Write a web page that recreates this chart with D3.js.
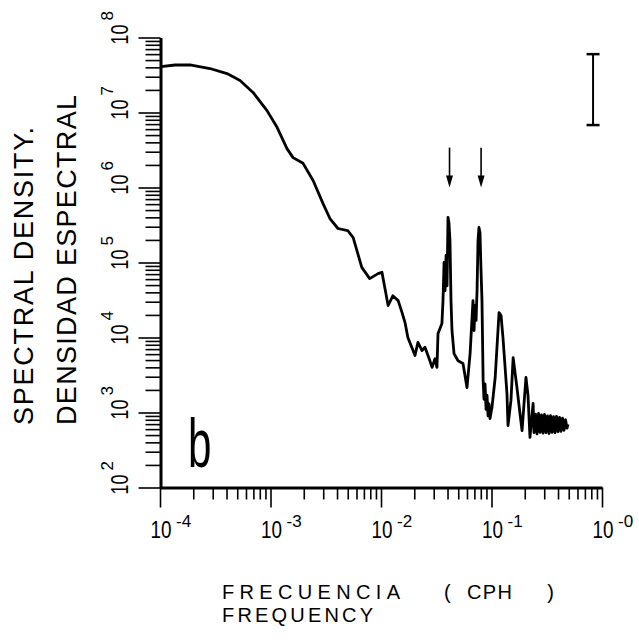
<!DOCTYPE html>
<html>
<head>
<meta charset="utf-8">
<script src="https://cdn.jsdelivr.net/npm/d3@7"></script>
<style>
  body { margin: 0; background: #fff; }
  svg { display: block; }
  text { font-family: "Liberation Sans", Arial, sans-serif; fill: #000; }
</style>
</head>
<body>
<div id="chart"></div>
<script>
// frequency (cph) and spectral density
const freq = [
  1.02e-4, 1.37e-4, 1.87e-4, 2.83e-4, 4.04e-4, 5.3e-4, 6.95e-4, 9.3e-4,
  1.15e-3, 1.41e-3, 1.6e-3, 1.97e-3, 2.43e-3, 2.99e-3, 3.45e-3, 4.08e-3,
  5.0e-3, 5.6e-3, 6.7e-3, 7.9e-3, 9.4e-3, 1.02e-2, 1.16e-2, 1.28e-2,
  1.43e-2, 1.55e-2, 1.65e-2, 1.75e-2, 1.95e-2, 2.03e-2, 2.16e-2, 2.35e-2,
  2.5e-2, 2.77e-2, 2.9e-2, 3.08e-2, 3.21e-2, 3.28e-2, 3.56e-2,
  3.64e-2, 3.72e-2, 3.80e-2, 3.88e-2, 3.96e-2, 4.04e-2, 4.12e-2, 4.21e-2,
  4.30e-2, 4.39e-2, 4.58e-2, 4.98e-2, 5.52e-2, 6.0e-2, 6.4e-2,
  6.8e-2, 6.95e-2, 7.1e-2, 7.25e-2, 7.4e-2, 7.55e-2, 7.7e-2, 7.87e-2,
  8.0e-2, 8.2e-2, 8.4e-2, 8.55e-2, 8.74e-2, 8.93e-2, 9.11e-2, 9.31e-2,
  9.49e-2, 9.7e-2, 9.9e-2, 0.101, 0.108, 0.117,
  0.122, 0.127, 0.138, 0.141, 0.150, 0.157, 0.170, 0.181, 0.189, 0.205,
  0.214, 0.223, 0.238,
  0.2424, 0.2501, 0.2581, 0.2663, 0.2748, 0.2835, 0.2925, 0.3017,
  0.3113, 0.3212, 0.3314, 0.3419, 0.3528, 0.3640, 0.3755, 0.3875,
  0.3998, 0.4125, 0.4256, 0.4391, 0.4530, 0.4675, 0.4823, 0.492
];
const density = [
  4.1e7, 4.3e7, 4.3e7, 3.86e7, 3.3e7, 2.67e7, 1.85e7, 1.06e7,
  6.3e6, 3.3e6, 2.5e6, 2.1e6, 1.24e6, 6.1e5, 3.86e5, 2.84e5,
  2.67e5, 2.15e5, 8.6e4, 6.1e4, 7.1e4, 7.4e4, 2.67e4, 3.6e4,
  3.1e4, 2.15e4, 1.58e4, 1.0e4, 6.7e3, 5.75e3, 8.6e3, 6.7e3,
  7.4e3, 4.9e3, 4.0e3, 5.2e3, 4.0e3, 1.13e4, 1.54e4,
  3.1e4, 1.0e5, 4.2e4, 1.24e5, 4.9e4, 4.0e5, 3.4e5, 1.96e5,
  3.1e4, 1.24e4, 6.1e3, 4.9e3, 4.5e3, 2.15e3, 6.1e3,
  3.1e4, 1.24e4, 2.67e4, 1.69e4, 4.2e4, 1.96e5, 2.93e5, 2.5e5,
  1.0e5, 3.1e4, 2670, 1500, 2400, 1100, 1700, 900,
  1300, 830, 1000, 1170, 2930, 2.15e4,
  1.96e4, 1.0e4, 1790, 670, 1450, 5400, 2150, 970, 575, 2930,
  1690, 465, 1320,
  540, 950, 520, 970, 545, 930, 530, 940,
  540, 900, 525, 910, 545, 880, 540, 890,
  555, 860, 560, 840, 580, 800, 620, 700
];

const xDomain = [1e-4, 1];
const yDomain = [1e2, 1e8];
const xTickExps = [-4, -3, -2, -1, 0];
const xTickExpLabels = ["-4", "-3", "-2", "-1", "-0"];
const yTickExps = [2, 3, 4, 5, 6, 7, 8];
const yTickExpLabels = ["2", "3", "4", "5", "6", "7", "8"];

// tidal peaks marked with arrows (diurnal, semidiurnal)
const arrowFreqs = [0.0417, 0.0805];
const arrowTop = 3.4e6, arrowTip = 1.0e6;
// confidence interval bar
const errorBarFreq = 0.83;
const errorBarRange = [6.8e6, 6.0e7];

const panelLabel = "b";
const yTitles = ["SPECTRAL DENSITY.", "DENSIDAD ESPECTRAL"];
const xTitle1 = ["FRECUENCIA", "(", "CPH", ")"];
const xTitle2 = "FREQUENCY";

const width = 639, height = 643;
const svg = d3.select("#chart").append("svg")
  .attr("width", width).attr("height", height);

const x = d3.scaleLog().domain(xDomain).range([160, 602]);
const y = d3.scaleLog().domain(yDomain).range([487.5, 37.5]);
const isMajor = d => Math.abs(Math.log10(d) - Math.round(Math.log10(d))) < 1e-6;

// axes
const gx = svg.append("g").attr("transform", "translate(0,487.5)")
  .call(d3.axisBottom(x).tickSize(12).tickSizeOuter(0).tickFormat(""));
gx.select(".domain").attr("stroke-width", 3);
gx.selectAll(".tick line").attr("stroke-width", 1.6).attr("y2", d => isMajor(d) ? 20 : 12);

const gy = svg.append("g").attr("transform", "translate(160.5,0)")
  .call(d3.axisLeft(y).tickSize(15).tickSizeOuter(0).tickFormat(""));
gy.select(".domain").attr("stroke-width", 3);
gy.selectAll(".tick line").attr("stroke-width", 1.6).attr("x2", d => isMajor(d) ? -22 : -15);

// x tick labels: 10 with exponent
xTickExps.forEach((e, i) => {
  const px = x(Math.pow(10, e));
  svg.append("text").attr("x", px + 1).attr("y", 538)
    .attr("text-anchor", "middle").attr("font-size", 24)
    .attr("textLength", 21).attr("lengthAdjust", "spacingAndGlyphs")
    .text("10");
  svg.append("text").attr("x", px + 16).attr("y", 527)
    .attr("font-size", 17)
    .text(xTickExpLabels[i]);
});

// y tick labels, rotated
yTickExps.forEach((e, i) => {
  const py = y(Math.pow(10, e));
  const g = svg.append("g").attr("transform", `translate(128,${py}) rotate(-90)`);
  g.append("text").attr("x", 3).attr("y", 0)
    .attr("text-anchor", "middle").attr("font-size", 23)
    .attr("textLength", 20).attr("lengthAdjust", "spacingAndGlyphs")
    .text("10");
  g.append("text").attr("x", 17).attr("y", -15)
    .attr("font-size", 17)
    .text(yTickExpLabels[i]);
});

// spectrum
const pts = freq.map((f, i) => [f, density[i]]);
svg.append("path").datum(pts)
  .attr("fill", "none").attr("stroke", "#000")
  .attr("stroke-width", 2.8).attr("stroke-linejoin", "round")
  .attr("d", d3.line().x(d => x(d[0])).y(d => y(d[1])));

// arrows
arrowFreqs.forEach(f => {
  const ax = x(f), y0 = y(arrowTop), y1 = y(arrowTip);
  svg.append("line").attr("x1", ax).attr("x2", ax)
    .attr("y1", y0).attr("y2", y1 - 8)
    .attr("stroke", "#000").attr("stroke-width", 1.6);
  svg.append("path")
    .attr("d", `M${ax - 3.5},${y1 - 12} L${ax + 3.5},${y1 - 12} L${ax},${y1} Z`)
    .attr("fill", "#000");
});

// error bar
const ex = x(errorBarFreq);
svg.append("line").attr("x1", ex).attr("x2", ex)
  .attr("y1", y(errorBarRange[1])).attr("y2", y(errorBarRange[0]))
  .attr("stroke", "#000").attr("stroke-width", 2);
errorBarRange.forEach(v => {
  svg.append("line").attr("x1", ex - 6.5).attr("x2", ex + 6.5)
    .attr("y1", y(v)).attr("y2", y(v))
    .attr("stroke", "#000").attr("stroke-width", 2.5);
});

// panel letter
svg.append("text").attr("transform", "translate(188,467) scale(0.62,1)")
  .attr("font-size", 68).text(panelLabel);

// y titles
svg.append("text").attr("transform", "translate(33,425) rotate(-90)")
  .attr("font-size", 27).attr("textLength", 298).attr("lengthAdjust", "spacing")
  .text(yTitles[0]);
svg.append("text").attr("transform", "translate(76,425) rotate(-90)")
  .attr("font-size", 27).attr("textLength", 330).attr("lengthAdjust", "spacing")
  .text(yTitles[1]);

// x titles
svg.append("text").attr("x", 222).attr("y", 599).attr("font-size", 20)
  .attr("textLength", 178).attr("lengthAdjust", "spacing").text(xTitle1[0]);
svg.append("text").attr("x", 444).attr("y", 599).attr("font-size", 20).text(xTitle1[1]);
svg.append("text").attr("x", 467).attr("y", 599).attr("font-size", 20)
  .attr("textLength", 45).attr("lengthAdjust", "spacing").text(xTitle1[2]);
svg.append("text").attr("x", 554).attr("y", 599).attr("font-size", 20)
  .attr("text-anchor", "end").text(xTitle1[3]);
svg.append("text").attr("x", 222).attr("y", 622).attr("font-size", 20)
  .attr("textLength", 151).attr("lengthAdjust", "spacing").text(xTitle2);
</script>
</body>
</html>
